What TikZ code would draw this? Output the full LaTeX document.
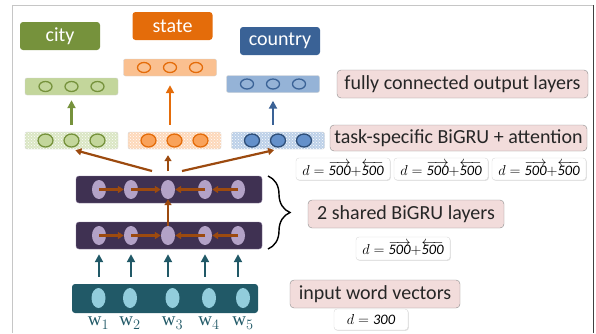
\documentclass[tikz,border=0pt]{standalone}
\usepackage{fontspec}
\setmainfont{Carlito}
\newfontfamily\wfont{Liberation Serif}
\usetikzlibrary{arrows.meta,patterns,shadows,shapes.geometric,decorations.pathreplacing}

\definecolor{cityG}{HTML}{76923C}
\definecolor{stateO}{HTML}{E46C0A}
\definecolor{countryB}{HTML}{3A6296}
\definecolor{fcG}{HTML}{C3D69B}
\definecolor{fcO}{HTML}{FAC090}
\definecolor{fcB}{HTML}{95B3D7}
\definecolor{taskG}{HTML}{DAE6C4}
\definecolor{taskO}{HTML}{FDD8BA}
\definecolor{taskB}{HTML}{BCD0E8}
\definecolor{unitO}{HTML}{F9A25A}
\definecolor{unitB}{HTML}{6490CA}
\definecolor{sharedP}{HTML}{3F3152}
\definecolor{cellP}{HTML}{B3A2C7}
\definecolor{arrowBr}{HTML}{9C4A0F}
\definecolor{inputT}{HTML}{215967}
\definecolor{cellT}{HTML}{92CDDC}
\definecolor{notePink}{HTML}{F2DCDB}

\tikzset{
  taskname/.style={fill=#1, rounded corners=3pt, text=white, font=\fontsize{20}{22}\selectfont,
    minimum width=80pt, minimum height=28pt, inner sep=0pt},
  bar/.style={fill=#1, draw=gray!35, rounded corners=2pt, minimum width=93pt,
    minimum height=17pt, inner sep=0pt},
  dotbar/.style={bar=#1, postaction={pattern=crosshatch dots, pattern color=white}},
  unit/.style={ellipse, draw=#1, line width=1.3pt, minimum width=13pt, minimum height=10pt, inner sep=0pt},
  bigunit/.style={unit=#1, minimum width=15pt, minimum height=13pt},
  cell/.style={ellipse, fill=#1, minimum width=14pt, minimum height=19pt, inner sep=0pt},
  note/.style={draw=black!45, fill=notePink, rounded corners=4pt, text=black!85,
    font=\fontsize{20}{22}\selectfont, minimum height=28pt, inner sep=0pt},
  dimbox/.style={draw=gray!30, fill=white, rounded corners=3pt, minimum width=94pt, minimum height=22pt,
    inner sep=0pt, font=\fontsize{14.5}{16}\selectfont,
    drop shadow={shadow xshift=0.8pt, shadow yshift=-0.8pt, opacity=0.25}},
  up/.style={-{Triangle[length=8pt,width=8pt]}, line width=2.6pt, draw=#1},
  flow/.style={-{Triangle[length=6pt,width=7pt]}, line width=2.2pt, draw=arrowBr},
}

\newcommand{\dimtext}{$d=\overrightarrow{\mathit{500}}{+}\overleftarrow{\mathit{500}}$}

\begin{document}
\begin{tikzpicture}[x=1pt,y=-1pt]
  \useasboundingbox (0,0) rectangle (596,333);
  % frame
  \draw[gray!45, line width=1pt] (12,333) -- (12,5) -- (593,5);
  \draw[black!75, line width=0.8pt] (593,5) -- (593,333);

  % task names
  \node[taskname=cityG] (city) at (60,36) {city};
  \node[taskname=stateO] (state) at (172.5,26) {state};
  \node[taskname=countryB] (country) at (280,41) {country};

  % fully connected output layers
  \node[bar=fcG] (fcCity) at (71.5,86.5) {};
  \node[bar=fcO] (fcState) at (170,67.5) {};
  \node[bar=fcB] (fcCountry) at (273,84) {};
  \foreach \i/\dx in {1/-26,2/0,3/26} {
    \node[unit=cityG, fill=fcG] (fcCity\i) at ([xshift=\dx pt]fcCity.center) {};
    \node[unit=stateO, fill=fcO] (fcState\i) at ([xshift=\dx pt]fcState.center) {};
    \node[unit=countryB, fill=fcB] (fcCountry\i) at ([xshift=\dx pt]fcCountry.center) {};
  }

  % task-specific BiGRU + attention
  \node[dotbar=taskG] (taskCity) at (71.5,140.5) {};
  \node[dotbar=taskO] (taskState) at (174.5,140.5) {};
  \node[dotbar=taskB] (taskCountry) at (278,140.5) {};
  \foreach \i/\dx in {1/-26,2/0,3/26} {
    \node[bigunit=cityG, fill=fcG] (taskCity\i) at ([xshift=\dx pt]taskCity.center) {};
    \node[bigunit=stateO, fill=unitO] (taskState\i) at ([xshift=\dx pt]taskState.center) {};
    \node[bigunit=countryB!80!black, fill=unitB] (taskCountry\i) at ([xshift=\dx pt]taskCountry.center) {};
  }

  % task arrows
  \draw[up=cityG, shorten <=7pt, shorten >=5pt] (taskCity.north) -- (fcCity.south);
  \draw[up=stateO, shorten <=7pt, shorten >=9pt] (fcState.south |- taskState.north) -- (fcState.south);
  \draw[up=countryB, shorten <=7pt, shorten >=8pt] (fcCountry.south |- taskCountry.north) -- (fcCountry.south);

  % 2 shared BiGRU layers
  \node[fill=sharedP, draw=cellP!60!sharedP, rounded corners=3pt, minimum width=186pt, minimum height=27pt] (sA) at (169,189.5) {};
  \node[fill=sharedP, draw=cellP!60!sharedP, rounded corners=3pt, minimum width=186pt, minimum height=27pt] (sB) at (169,235.5) {};
  \foreach \i/\x in {1/99,2/131,3/168,4/205,5/238} {
    \node[cell=cellP] (sA\i) at (\x,189.5) {};
    \node[cell=cellP] (sB\i) at (\x,235.5) {};
  }
  \foreach \l in {sA,sB} {
    \draw[flow] (\l1.center) -- (\l2.west);
    \draw[flow] (\l2.center) -- (\l3.west);
    \draw[flow] (\l5.center) -- (\l4.east);
    \draw[flow] (\l4.center) -- (\l3.east);
  }
  \draw[flow] (sB3.north) -- (sA3.south);

  % to the task layers
  \coordinate (fanL) at (152,171);
  \coordinate (fanM) at (168,171);
  \coordinate (fanR) at (182,171);
  \draw[flow, shorten >=4pt] (fanL) -- (taskCity.south);
  \draw[flow, shorten >=6pt] (fanM) -- (fanM |- taskState.south);
  \draw[flow, shorten >=4pt] (fanR) -- (taskCountry.south);

  % input word vectors
  \node[fill=inputT, rounded corners=3pt, minimum width=186pt, minimum height=29pt] (inBar) at (165,298.5) {};
  \foreach \i/\x in {1/98.5,2/130,3/172.5,4/209,5/243} {
    \node[cell=cellT, minimum height=20pt] (in\i) at (\x,298) {};
    \node[text=inputT, font=\wfont\fontsize{19}{20}\selectfont, inner sep=0pt] (w\i) at (\x,323) {w$_{\i}$};
    \draw[up=inputT, shorten <=7pt, shorten >=9pt] (sB\i.south |- inBar.north) -- (sB\i.south);
  }

  % brace
  \draw[line width=1.4pt, decorate, decoration={brace, amplitude=22pt}] (268,176) -- (268,249);

  % notes
  \node[note, minimum width=251pt] (fcNote) at (462.5,84) {fully connected output layers};
  \node[note, minimum width=257pt, minimum height=26pt] (taskNote) at (458.5,138) {task-specific BiGRU + attention};
  \node[note, minimum width=196pt] (sharedNote) at (406,214) {2 shared BiGRU layers};
  \node[note, minimum width=170pt] (inputNote) at (375,294) {input word vectors};

  % dimensions
  \node[dimbox] (dimCity) at (343,169) {\dimtext};
  \node[dimbox] (dimState) at (441,169) {\dimtext};
  \node[dimbox] (dimCountry) at (539,169) {\dimtext};
  \node[dimbox, minimum height=23pt] (dimShared) at (403,248.5) {\dimtext};
  \node[dimbox, minimum width=74pt, minimum height=21pt] (dimInput) at (371,319.5) {$d=\mathit{300}$};
\end{tikzpicture}
\end{document}
